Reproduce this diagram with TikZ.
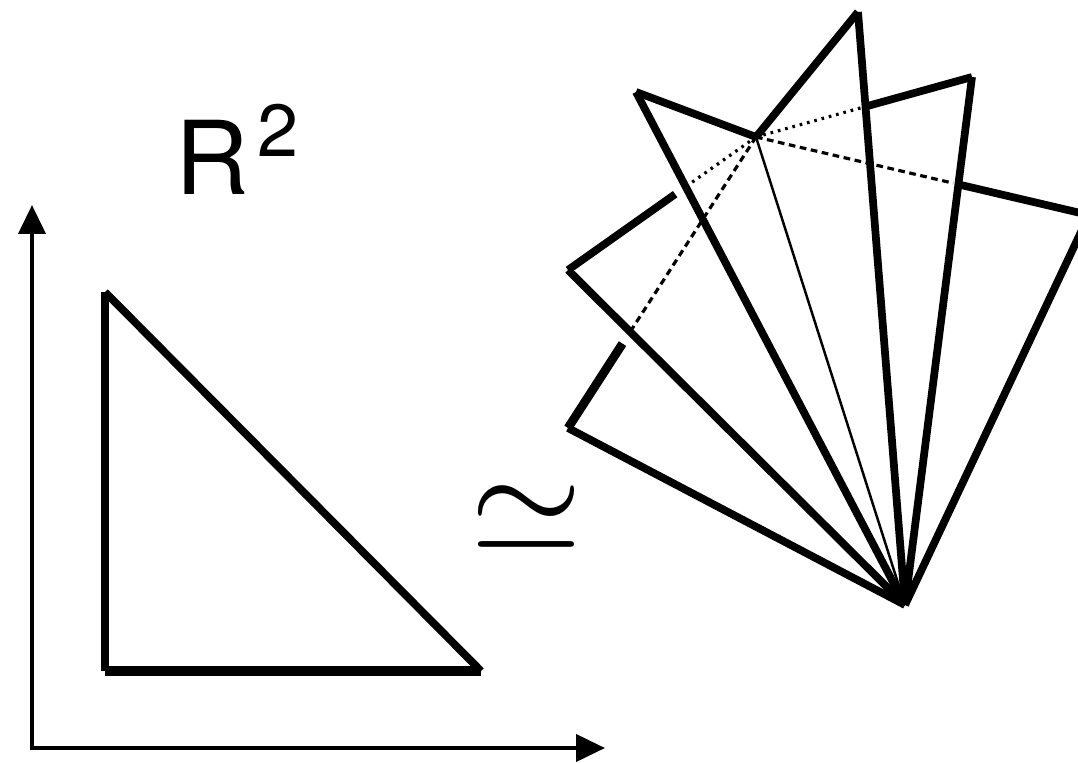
\documentclass[tikz,border=0pt]{standalone}
\usepackage{amsmath}
\usepackage{fontspec}
\newfontfamily\helv{TeX Gyre Heros}
\usetikzlibrary{arrows.meta,calc}

\begin{document}
\begin{tikzpicture}[x=0.02cm,y=-0.02cm,>={Triangle[length=0.58cm,width=0.54cm]},
  fanline/.style={line width=4.4pt},
  thinline/.style={line width=1.4pt},
  hiddendash/.style={line width=1.8pt,dash pattern=on 3.8pt off 2.6pt},
  hiddendot/.style={line width=1.8pt,dash pattern=on 1.5pt off 2.8pt},
  axisline/.style={line width=2.3pt}]
\clip (0,0) rectangle (1078,763);

% the plane
\coordinate (yend) at (32,205);
\coordinate (o) at (32,748);
\coordinate (xend) at (605,748);
\draw[axisline,<->] (yend) -- (o) -- (xend);
\coordinate (ta) at (105,292);
\coordinate (tb) at (105,671);
\coordinate (tc) at (481,671);
\draw[fanline] (ta) -- (tb);
\draw[line width=5.2pt] (tb) -- (tc);
\draw[fanline] (ta) -- (tc);
\node[anchor=base west,inner sep=0pt,font=\helv\fontsize{58}{58}\selectfont] (plane) at (175,195)
  {R\hspace{5pt}\raisebox{22pt}{\fontsize{42}{42}\selectfont 2}};

\node[scale=8.2,inner sep=0pt] (iso) at (527,519) {$\simeq$};

% the fan
\coordinate (apex) at (905,605);
\coordinate (c) at (756,137);
\coordinate (pa) at (858,12);
\coordinate (pb) at (636,92);
\coordinate (pd) at (972,77);
\coordinate (pg) at (1089,215);
\coordinate (pi) at (568,270);
\coordinate (pj) at (568,428);
\foreach \p in {pj,pi,pb,pa,pd,pg}
  \draw[fanline] (\p) -- (apex);
\draw[thinline] (c) -- (apex);
\draw[fanline] (pb) -- (c);
\draw[fanline] (pa) -- (c);
% edges partly behind
\draw[fanline] (pd) -- ($(pd)!0.49!(c)$);
\draw[hiddendot] (c) -- ($(pd)!0.51!(c)$);
\draw[fanline] (pg) -- ($(pg)!0.393!(c)$);
\draw[hiddendash] (c) -- ($(pg)!0.408!(c)$);
\draw[fanline] (pi) -- ($(pi)!0.57!(c)$);
\draw[hiddendot] (c) -- ($(pi)!0.62!(c)$);
\draw[line width=5pt] (pj) -- ($(pj)!0.29!(c)$);
\draw[hiddendash] (c) -- ($(pj)!0.34!(c)$);
\end{tikzpicture}
\end{document}
